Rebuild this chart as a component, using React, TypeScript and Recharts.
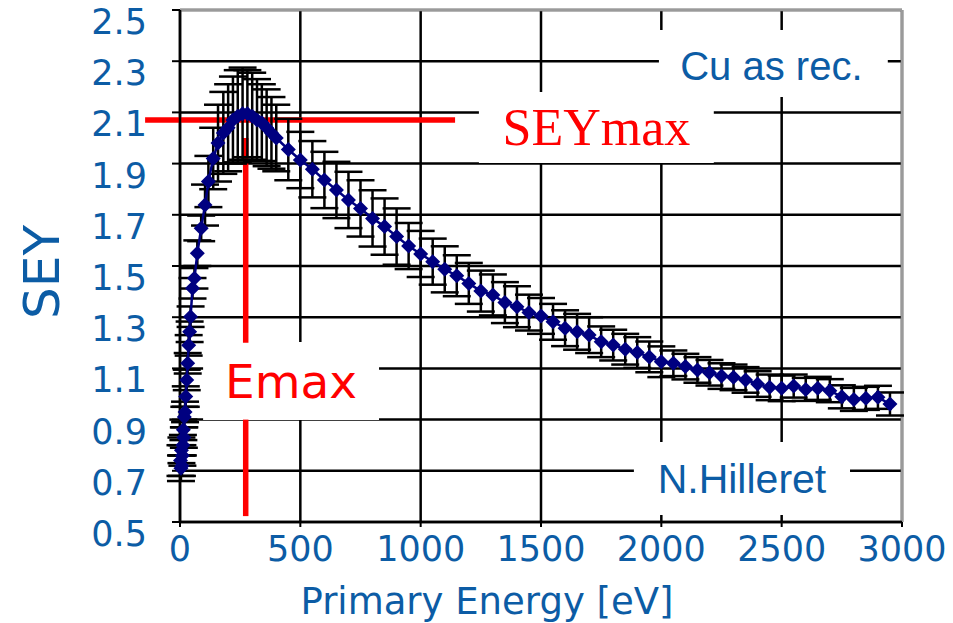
import React from 'react';
import {
  ComposedChart,
  Line,
  XAxis,
  YAxis,
  CartesianGrid,
  ErrorBar,
  ReferenceLine,
  ReferenceArea,
} from 'recharts';

// primary energy [eV], SEY and its error
const energies = [
  2, 4, 6, 8, 10, 12, 14, 16, 18, 21, 24, 28, 32, 36, 40, 44, 52, 60, 72, 88,
  104, 118, 138, 158, 180, 200, 220, 240, 260, 280, 300, 320, 340, 360, 380, 400,
  450, 500, 550, 600, 650, 700, 750, 800, 850, 900, 950, 1000, 1050, 1100, 1150,
  1200, 1250, 1300, 1350, 1400, 1450, 1500, 1550, 1600, 1650, 1700, 1750, 1800,
  1850, 1900, 1950, 2000, 2050, 2100, 2150, 2200, 2250, 2300, 2350, 2400, 2450,
  2500, 2550, 2600, 2650, 2700, 2750, 2800, 2850, 2900, 2950,
];
const seyValues = [
  0.74, 0.71, 0.78, 0.72, 0.76, 0.8, 0.86, 0.83, 0.91, 0.93, 0.99, 1.055, 1.12, 1.19, 1.243, 1.302, 1.413, 1.452, 1.55, 1.647,
  1.738, 1.83, 1.92, 1.98, 2.02, 2.04, 2.07, 2.085, 2.095, 2.095, 2.085, 2.07, 2.06, 2.04, 2.02, 2.0,
  1.955, 1.914, 1.878, 1.836, 1.797, 1.758, 1.725, 1.686, 1.654, 1.615, 1.578, 1.547, 1.517, 1.487, 1.462,
  1.432, 1.402, 1.387, 1.357, 1.341, 1.318, 1.305, 1.282, 1.257, 1.243, 1.23, 1.204, 1.191,
  1.175, 1.162, 1.145, 1.126, 1.12, 1.107, 1.094, 1.083, 1.07, 1.065, 1.055, 1.039, 1.026,
  1.022, 1.031, 1.018, 1.022, 1.013, 0.989, 0.979, 0.983, 0.987, 0.961,
];
const seyErrors = [
  0.06, 0.05, 0.05, 0.04, 0.04, 0.04, 0.04, 0.04, 0.04, 0.04, 0.04, 0.04, 0.04, 0.04, 0.04, 0.04, 0.04, 0.04, 0.05, 0.05,
  0.08, 0.1, 0.12, 0.15, 0.16, 0.17, 0.17, 0.18, 0.18, 0.17, 0.17, 0.16, 0.15, 0.15, 0.14, 0.13,
  0.12, 0.11, 0.11, 0.11, 0.11, 0.11, 0.11, 0.11, 0.11, 0.11, 0.09, 0.09, 0.09, 0.09, 0.08,
  0.08, 0.08, 0.08, 0.08, 0.08, 0.07, 0.07, 0.07, 0.07, 0.07, 0.07, 0.06, 0.06,
  0.06, 0.06, 0.06, 0.06, 0.05, 0.05, 0.05, 0.05, 0.05, 0.05, 0.05, 0.05, 0.05,
  0.05, 0.045, 0.045, 0.045, 0.045, 0.045, 0.045, 0.045, 0.045, 0.045,
];

const xTicks = [0, 500, 1000, 1500, 2000, 2500, 3000];
const yTicks = [0.5, 0.7, 0.9, 1.1, 1.3, 1.5, 1.7, 1.9, 2.1, 2.3, 2.5];

// annotation values
const seyMax = 2.07;
const eMax = 273;

const data = energies.map((e, i) => ({ e, sey: seyValues[i], err: seyErrors[i] }));

const BLUE = '#0c5ca5';
const NAVY = '#000080';
const RED = '#ff0000';
const SANS = '"DejaVu Sans", Verdana, sans-serif';
const ARIAL = '"Liberation Sans", Arial, sans-serif';
const SERIF = '"Liberation Serif", "Times New Roman", serif';

const Diamond = (props: any) => {
  const { cx, cy, index } = props;
  if (cx == null || cy == null) return <g key={index} />;
  const r = 7.5;
  return (
    <path
      key={index}
      d={`M${cx},${cy - r}L${cx + r},${cy}L${cx},${cy + r}L${cx - r},${cy}Z`}
      fill={NAVY}
    />
  );
};

const YTick = ({ x, y, payload }: any) => (
  <text x={x} y={y} dy={12} textAnchor="end" dominantBaseline="central" fill={BLUE} fontSize={35} fontFamily={SANS}>
    {payload.value.toFixed(1)}
  </text>
);

const XTick = ({ x, y, payload }: any) => (
  <text x={x} y={y} dy={22} textAnchor="middle" dominantBaseline="central" fill={BLUE} fontSize={35} fontFamily={SANS}>
    {payload.value}
  </text>
);

const boxText =
  (text: string, color: string, size: number, family: string, dx = 0, dy = 0) =>
  (props: any) => {
    const vb = props.viewBox;
    return (
      <text
        x={vb.x + vb.width / 2 + dx}
        y={vb.y + vb.height / 2 + dy}
        textAnchor="middle"
        dominantBaseline="central"
        fill={color}
        fontSize={size}
        fontFamily={family}
      >
        {text}
      </text>
    );
  };

export default function App() {
  return (
    <div style={{ position: 'absolute', left: 0, top: 0, width: 953, height: 623, background: '#fff' }}>
      <ComposedChart width={953} height={623} data={data} margin={{ top: 10, right: 51, bottom: 0, left: 0 }}>
        <CartesianGrid stroke="#000" strokeWidth={2.5} />
        <XAxis
          type="number"
          dataKey="e"
          domain={[0, 3000]}
          ticks={xTicks}
          height={101}
          tickSize={5}
          tickMargin={0}
          tick={<XTick />}
          axisLine={{ stroke: '#000', strokeWidth: 2.5 }}
          tickLine={{ stroke: '#000', strokeWidth: 2 }}
          label={(props: any) => {
            const vb = props.viewBox;
            return (
              <text x={vb.x + vb.width / 2 - 54} y={vb.y + 79} textAnchor="middle" dominantBaseline="central" fill={BLUE} fontSize={37} fontFamily={SANS}>
                Primary Energy [eV]
              </text>
            );
          }}
        />
        <YAxis
          type="number"
          domain={[0.5, 2.5]}
          ticks={yTicks}
          width={180}
          tickSize={8}
          tickMargin={25}
          tick={<YTick />}
          axisLine={{ stroke: '#000', strokeWidth: 2.5 }}
          tickLine={{ stroke: '#000', strokeWidth: 2 }}
          label={(props: any) => {
            const vb = props.viewBox;
            const cx = vb.x + 42;
            const cy = vb.y + vb.height / 2 + 6;
            return (
              <text x={cx} y={cy} textAnchor="middle" dominantBaseline="central" fill={BLUE} fontSize={50} fontFamily={SANS} transform={`rotate(-90 ${cx} ${cy})`}>
                SEY
              </text>
            );
          }}
        />
        <ReferenceLine y={2.5} stroke="#9a9a9a" strokeWidth={2.5} />
        <ReferenceLine x={3000} stroke="#9a9a9a" strokeWidth={2.5} />

        <ReferenceLine
          segment={[{ x: -145, y: seyMax }, { x: 1143, y: seyMax }]}
          stroke={RED}
          strokeWidth={5.5}
          ifOverflow="visible"
        />
        <ReferenceLine segment={[{ x: eMax, y: 2.0 }, { x: eMax, y: 1.2 }]} stroke={RED} strokeWidth={5.5} ifOverflow="visible" />
        <ReferenceLine segment={[{ x: eMax, y: 0.9 }, { x: eMax, y: 0.523 }]} stroke={RED} strokeWidth={5.5} ifOverflow="visible" />

        <ReferenceArea x1={96} x2={827} y1={0.898} y2={1.203} fill="#fff" fillOpacity={1} stroke="none" ifOverflow="visible"
          label={boxText('Emax', RED, 47, SANS, 0, 0)} />
        <ReferenceArea x1={1242} x2={2218} y1={1.902} y2={2.18} fill="#fff" fillOpacity={1} stroke="none" ifOverflow="visible"
          label={boxText('SEYmax', RED, 52, SERIF, 0, 0)} />
        <ReferenceArea x1={1990} x2={2941} y1={2.16} y2={2.422} fill="#fff" fillOpacity={1} stroke="none" ifOverflow="visible"
          label={boxText('Cu as rec.', BLUE, 40, ARIAL, -2, 2)} />
        <ReferenceArea x1={1886} x2={2784} y1={0.527} y2={0.8125} fill="#fff" fillOpacity={1} stroke="none" ifOverflow="visible"
          label={boxText('N.Hilleret', BLUE, 41, ARIAL, 0, 0)} />

        <Line
          type="linear"
          dataKey="sey"
          stroke={NAVY}
          strokeWidth={2.5}
          dot={Diamond}
          activeDot={false}
          isAnimationActive={false}
        >
          <ErrorBar dataKey="err" direction="y" width={14} stroke="#000" strokeWidth={2.5} isAnimationActive={false} />
        </Line>
      </ComposedChart>
    </div>
  );
}
